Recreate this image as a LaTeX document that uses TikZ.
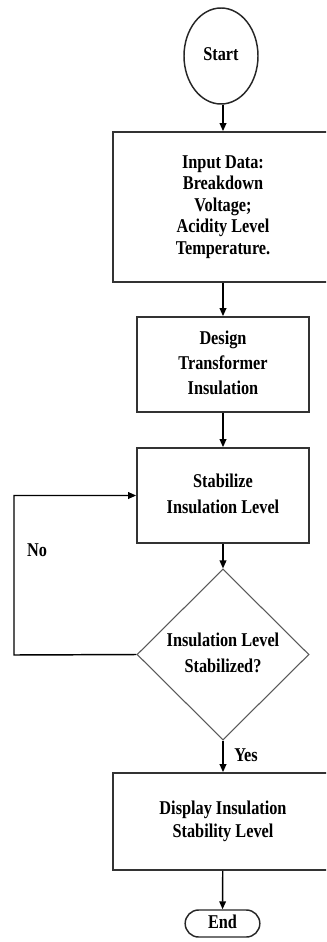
\documentclass[tikz,border=0pt]{standalone}
\usepackage{fontspec}
\setmainfont{Liberation Serif}
\usetikzlibrary{shapes.geometric,shapes.misc,arrows.meta}
\newcommand{\flowtxt}[2][15pt]{\scalebox{1}[1.2]{\fontsize{12.2pt}{#1}\selectfont\bfseries\begin{tabular}{@{}c@{}}#2\end{tabular}}}
\begin{document}
\begin{tikzpicture}[x=0.75pt,y=-0.75pt,
  boxstyle/.style={draw=black!80,line width=1.3pt,rectangle,inner sep=0pt},
  diastyle/.style={draw=black!65,line width=0.8pt,diamond,inner sep=0pt},
  termstyle/.style={draw=black!85,line width=1.1pt,inner sep=0pt},
  flowarrow/.style={draw=black,line width=1.1pt,-{Triangle[length=6pt,width=5pt]}},
  labelstyle/.style={inner sep=0pt}]
\useasboundingbox (0,0) rectangle (326,942);
\clip (0,0) rectangle (326,942);
\node[termstyle,ellipse,minimum width=55.5pt,minimum height=72pt] (start) at (221,56) {\flowtxt{Start}};
\node[boxstyle,minimum width=165pt,minimum height=112.5pt] (input) at (223,207) {\flowtxt[13.5pt]{Input Data:\\Breakdown\\Voltage;\\Acidity Level\\Temperature.}};
\node[boxstyle,minimum width=129pt,minimum height=71.25pt] (design) at (223,364.5) {\flowtxt[15.5pt]{Design\\Transformer\\Insulation}};
\node[boxstyle,minimum width=129pt,minimum height=71.25pt] (stab) at (223,495.5) {\flowtxt[16pt]{Stabilize\\Insulation Level}};
\node[diastyle,minimum width=129pt,minimum height=128.25pt] (check) at (223,654.5) {\flowtxt[16pt]{Insulation Level\\Stabilized?}};
\node[boxstyle,minimum width=165pt,minimum height=72.75pt] (disp) at (223,821.5) {\flowtxt[14.5pt]{Display Insulation\\Stability Level}};
\node[termstyle,rounded rectangle,minimum width=56pt,minimum height=20.25pt] (stop) at (222.5,923.5) {\flowtxt{End}};
\coordinate (loopbot) at (14,655);
\coordinate (looptop) at (14,495.5);
\node[labelstyle] (nolab) at (37,552) {\flowtxt{No}};
\node[labelstyle] (yeslab) at (246,757) {\flowtxt{Yes}};
\draw[flowarrow] (start.south -| input.north) -- (input.north);
\draw[flowarrow] (input) -- (design);
\draw[flowarrow] (design) -- (stab);
\draw[flowarrow] (stab) -- (check);
\draw[flowarrow] (check) -- (disp);
\draw[flowarrow] (disp) -- (stop);
\draw[flowarrow] (check.west) -- (loopbot) -- (looptop) -- (stab.west);
\end{tikzpicture}
\end{document}
